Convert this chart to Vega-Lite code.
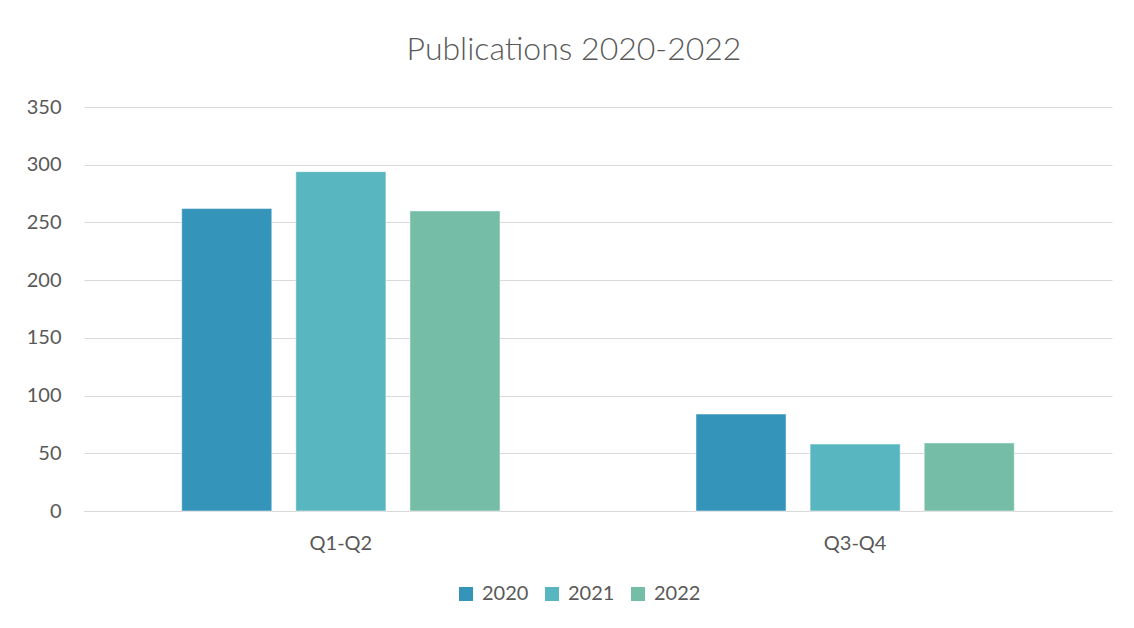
{
  "$schema": "https://vega.github.io/schema/vega-lite/v6.json",
  "width": 1028,
  "height": 404,
  "autosize": {"type": "none"},
  "padding": {"left": 84, "top": 107, "right": 22, "bottom": 117},
  "background": "white",
  "title": {
    "text": "Publications 2020-2022",
    "font": "Lato",
    "fontSize": 32,
    "fontWeight": "300",
    "color": "#595959",
    "anchor": "middle",
    "dx": -24,
    "offset": 30
  },
  "data": {
    "values": [
      {"period": "Q1-Q2", "year": "2020", "count": 262},
      {"period": "Q1-Q2", "year": "2021", "count": 294},
      {"period": "Q1-Q2", "year": "2022", "count": 260},
      {"period": "Q3-Q4", "year": "2020", "count": 84},
      {"period": "Q3-Q4", "year": "2021", "count": 58},
      {"period": "Q3-Q4", "year": "2022", "count": 59}
    ]
  },
  "mark": {"type": "bar", "stroke": "white", "strokeWidth": 0.5},
  "encoding": {
    "x": {
      "field": "period",
      "type": "nominal",
      "scale": {"paddingInner": 0.381, "paddingOuter": 0.19},
      "axis": {
        "title": null,
        "labelAngle": 0,
        "ticks": false,
        "domain": true,
        "domainColor": "#D9D9D9",
        "labelFont": "Lato",
        "labelFontSize": 20,
        "labelColor": "#595959",
        "labelPadding": 22
      }
    },
    "xOffset": {
      "field": "year",
      "type": "nominal",
      "scale": {"paddingInner": 0.2105, "paddingOuter": 0}
    },
    "y": {
      "field": "count",
      "type": "quantitative",
      "scale": {"domain": [0, 350], "nice": false},
      "axis": {
        "title": null,
        "values": [0, 50, 100, 150, 200, 250, 300, 350],
        "grid": true,
        "gridColor": "#D9D9D9",
        "gridWidth": 1,
        "domain": false,
        "ticks": false,
        "labelFont": "Lato",
        "labelFontSize": 20,
        "labelColor": "#595959",
        "labelPadding": 23
      }
    },
    "color": {
      "field": "year",
      "type": "nominal",
      "scale": {"domain": ["2020", "2021", "2022"], "range": ["#3494BA", "#58B6C0", "#75BDA7"]},
      "legend": {
        "title": null,
        "orient": "none",
        "direction": "horizontal",
        "legendX": 372,
        "legendY": 477,
        "symbolType": "square",
        "symbolSize": 196,
        "symbolStrokeWidth": 0,
        "labelFont": "Lato",
        "labelFontSize": 20,
        "labelColor": "#595959",
        "columnPadding": 13,
        "labelOffset": 6
      }
    }
  },
  "config": {
    "view": {"stroke": null}
  }
}
